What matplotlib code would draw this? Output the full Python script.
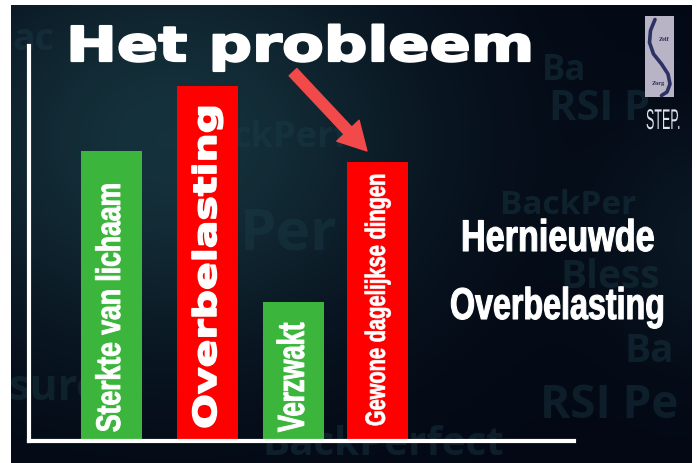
import numpy as np
import matplotlib
matplotlib.use("Agg")
import matplotlib.pyplot as plt
from matplotlib.patheffects import AbstractPathEffect
from matplotlib.transforms import Affine2D
from matplotlib.patches import Rectangle

# ---------------- data ----------------
categories = ["Sterkte van lichaam", "Overbelasting", "Verzwakt", "Gewone dagelijkse dingen"]
values = [81.7, 100.0, 39.2, 78.7]
bar_colors = ["#3bb53b", "#fe0000", "#3bb53b", "#fe0000"]
title_text = "Het probleem"
side_lines = ["Hernieuwde", "Overbelasting"]

# ---------------- layout / style ----------------
W, H = 697, 464
bar_pos = [0.0, 1.0, 1.9, 2.775]
bar_width = 0.635


class Scale(AbstractPathEffect):
    """Draw text glyphs scaled along (sx) / across (sy) the baseline; the text
    stays a Text artist. Optionally thickened with a stroke of the same colour."""
    def __init__(self, sx=1.0, sy=1.0, lw=0.0):
        super().__init__()
        self.sx = sx
        self.sy = sy
        self.lw = lw

    def draw_path(self, renderer, gc, tpath, affine, rgbFace=None):
        aff = Affine2D().scale(self.sx, self.sy) + affine
        if self.lw > 0 and rgbFace is not None:
            gc0 = renderer.new_gc()
            gc0.copy_properties(gc)
            gc0.set_linewidth(self.lw)
            gc0.set_foreground(rgbFace)
            gc0.set_joinstyle("round")
            renderer.draw_path(gc0, tpath, aff, rgbFace)
            gc0.restore()
        else:
            renderer.draw_path(gc, tpath, aff, rgbFace)


def fx(px):
    return px / W


def fy(py):
    return 1 - py / H


fig = plt.figure(figsize=(W / 100, H / 100), dpi=100, facecolor="white")

# ---- background panel (pixel coordinates, y downwards) ----
x0, x1, y0, y1 = 11, 692, 6, 464
bg = fig.add_axes([fx(x0), fy(y1), fx(x1) - fx(x0), fy(y0) - fy(y1)])
bg.set_xlim(x0, x1)
bg.set_ylim(y1, y0)
bg.axis("off")
xx, yy = np.meshgrid(np.linspace(x0, x1, 340), np.linspace(y0, y1, 230))
w = 0.95 * np.exp(-(((xx - 170) / 260) ** 2 + ((yy - 140) / 210) ** 2))
w += 0.35 * np.exp(-(((xx - 700) / 90) ** 2 + ((yy - 240) / 120) ** 2))
w = np.clip(w, 0, 1)[..., None]
dark = np.array([3, 8, 20]) / 255
teal = np.array([22, 52, 62]) / 255
img = dark * (1 - w) + teal * w
bg.imshow(img, extent=(x0, x1, y1, y0), aspect="auto", interpolation="bicubic", zorder=0)

wm_color = "#1b3d48"
watermarks = [
    ("ac", 12, 50, 27),
    ("ckPerf", 232, 147, 26),
    ("Per", 240, 250, 42),
    ("Ba", 542, 80, 25),
    ("RSI P", 549, 120, 30),
    ("BackPer", 500, 214, 24),
    ("Bless", 560, 288, 28),
    ("Ba", 625, 362, 28),
    ("RSI Pe", 540, 418, 33),
    ("sure", 8, 400, 31),
    ("BackPerfect", 262, 455, 29),
]
for s, wx, wy, fs in watermarks:
    bg.text(wx, wy, s, fontsize=fs, family="Open Sans", fontweight="bold",
            color=wm_color, alpha=0.42, ha="left", va="baseline", zorder=1, clip_on=True)

# logo
bg.add_patch(Rectangle((645, 17), 29, 81, facecolor="#b9b3c6", edgecolor="none", zorder=2))
sx_pts = [655, 650.5, 649.5, 653.5, 661.5, 668, 670, 667, 661.5]
sy_pts = [20.5, 31.5, 43.5, 55, 65, 75, 85, 93, 96.5]
bg.plot(sx_pts, sy_pts, color="#2b3163", lw=2.6, solid_capstyle="round", zorder=3)
bg.text(664, 39, "Zelf", fontsize=4.5, fontweight="bold", color="#2b2f55",
        ha="center", va="center", zorder=4, family="Liberation Serif")
bg.text(658, 83, "Zorg", fontsize=4.5, fontweight="bold", color="#2b2f55",
        ha="center", va="center", zorder=4, family="Liberation Serif")
bg.text(646, 130, "STEP.", fontsize=9.0, family="Liberation Sans", color="#dfe3ee",
        ha="left", va="baseline", zorder=4, path_effects=[Scale(1.0, 2.28)])

# title
bg.text(66, 62, title_text, fontsize=34.5, family="DejaVu Sans", fontweight="bold",
        color="white", ha="left", va="baseline", zorder=5,
        path_effects=[Scale(1.27, 1.0, lw=1.6)])

# side text (condensed look: narrower font size, glyphs scaled up vertically)
bg.text(461, 252, side_lines[0], fontsize=24.6, family="Liberation Sans", fontweight="bold",
        color="white", ha="left", va="baseline", zorder=5,
        path_effects=[Scale(1.0, 1.30, lw=0.8)])
bg.text(450, 320, side_lines[1], fontsize=23.2, family="Liberation Sans", fontweight="bold",
        color="white", ha="left", va="baseline", zorder=5,
        path_effects=[Scale(1.0, 1.38, lw=0.8)])

# ---- chart axes ----
ax = fig.add_axes([fx(29), fy(442), fx(574) - fx(29), fy(47) - fy(442)])
ax.set_facecolor("none")
ax.set_xlim(-0.859, 4.818)
ax.set_ylim(0, 111.27)
for side in ("top", "right"):
    ax.spines[side].set_visible(False)
for side in ("left", "bottom"):
    ax.spines[side].set_color("white")
    ax.spines[side].set_linewidth(3)
    ax.spines[side].set_zorder(5)
ax.set_xticks([])
ax.set_yticks([])

ax.bar(bar_pos, values, width=bar_width, color=bar_colors, zorder=2)

label_style = [
    # family, size(pt), stretch, stroke, bottom offset (data)
    ("Liberation Sans", 24.5, 0.78, 0.7, 2.5),
    ("DejaVu Sans", 22.7, 1.30, 1.2, 3.4),
    ("Liberation Sans", 27.1, 0.68, 0.7, 2.5),
    ("Liberation Sans", 20.1, 0.72, 0.5, 4.2),
]
for p, lab, (fam, fs, sx, lw, off) in zip(bar_pos, categories, label_style):
    ax.text(p, off, lab, rotation=90, ha="center", va="bottom", fontsize=fs,
            family=fam, fontweight="bold", color="white", zorder=4,
            path_effects=[Scale(sx, 1.0, lw=lw)])

# arrow pointing at the last bar
ax.annotate("", xy=(bar_pos[3] - 0.114, values[3] + 3.0), xytext=(1.891, 103.9),
            arrowprops=dict(arrowstyle="simple,head_length=1.0,head_width=1.1,tail_width=0.38",
                            color="#f24a4a", mutation_scale=20, shrinkA=0, shrinkB=0),
            annotation_clip=False, zorder=6)

fig.savefig("out.png", dpi=100, facecolor="white")
